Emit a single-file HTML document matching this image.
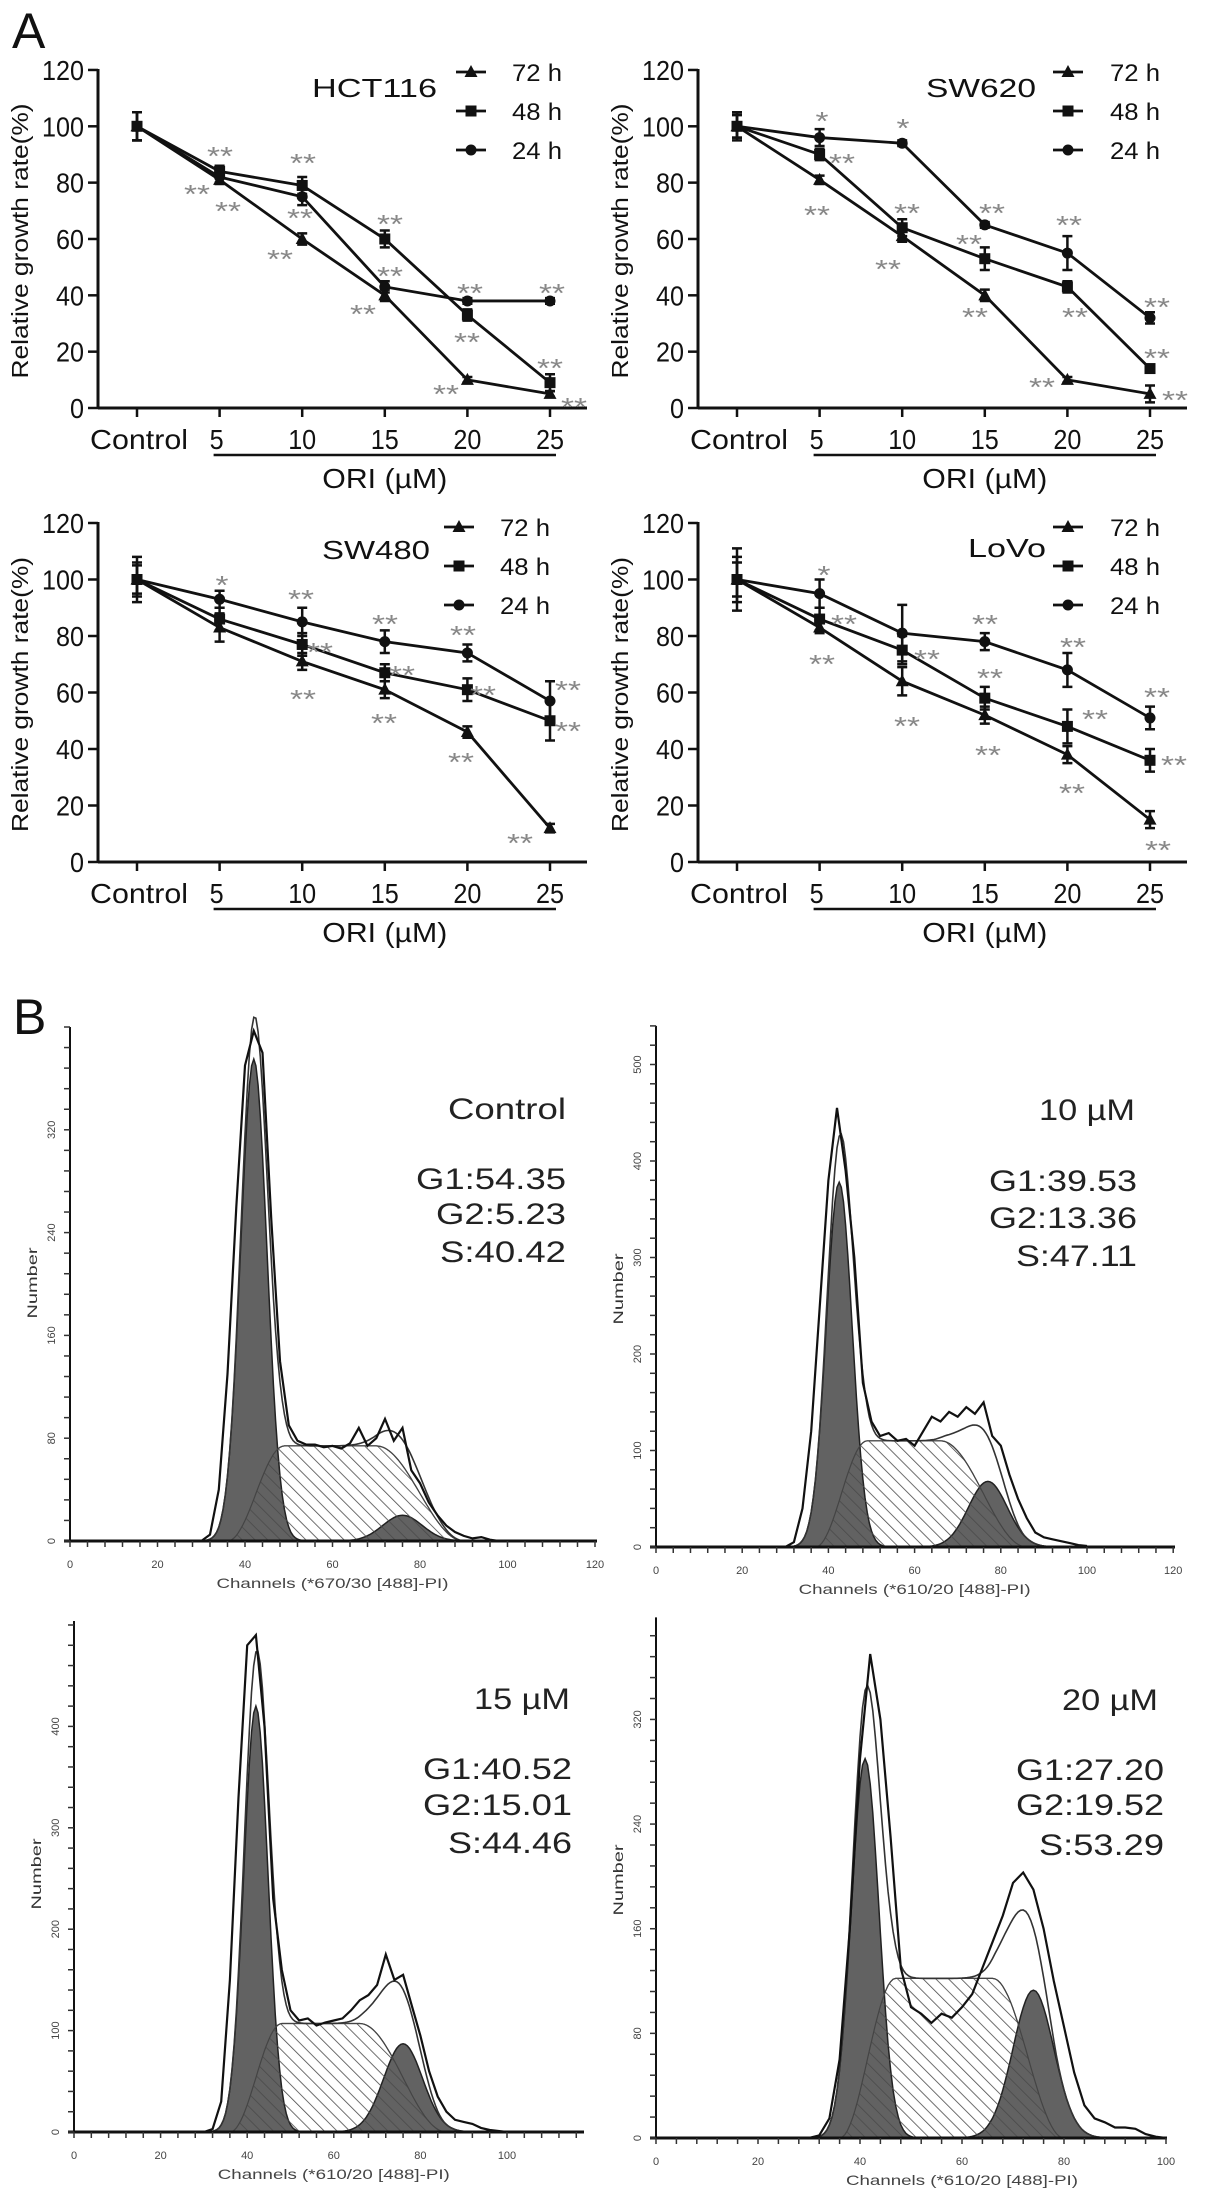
<!DOCTYPE html>
<html><head><meta charset="utf-8"><style>
html,body{margin:0;padding:0;background:#fff;}
svg{display:block;font-family:"Liberation Sans",Arial,sans-serif;}
</style></head><body>
<svg id="fig" width="1205" height="2200" viewBox="0 0 1205 2200" xmlns="http://www.w3.org/2000/svg">
<defs>
<pattern id="hatch" patternUnits="userSpaceOnUse" width="9" height="9" patternTransform="rotate(-45)">
<line x1="0" y1="0" x2="0" y2="9" stroke="#4a4a4a" stroke-width="1.6"/>
</pattern>
</defs>
<rect x="0" y="0" width="1205" height="2200" fill="#fff"/>
<text x="12" y="48" font-size="50" fill="#111">A</text>
<text x="13" y="1034" font-size="50" fill="#111">B</text>
</svg>
<script>
// ---------- Growth-rate chart data ----------
const growthDoses = ['Control','5','10','15','20','25'];
const seriesNames = ['72 h','48 h','24 h'];
const yTicks = [0,20,40,60,80,100,120];

const hct116_72h = [100,81,60,40,10,5];
const hct116_48h = [100,84,79,60,33,9];
const hct116_24h = [100,82,75,43,38,38];
const hct116_err72 = [5,1.5,2,2,1,1];
const hct116_err48 = [5,2,3,3,2,3];
const hct116_err24 = [5,2,3,2,1,1];

const sw620_72h = [100,81,61,40,10,5];
const sw620_48h = [100,90,64,53,43,14];
const sw620_24h = [100,96,94,65,55,32];
const sw620_err72 = [4,1.5,2,2,1,3];
const sw620_err48 = [4,2,3,4,2,1];
const sw620_err24 = [5,3,1,1,6,2];

const sw480_72h = [100,83,71,61,46,12];
const sw480_48h = [100,86,77,67,61,50];
const sw480_24h = [100,93,85,78,74,57];
const sw480_err72 = [5,5,3,3,2,1.5];
const sw480_err48 = [6,4,4,3,4,7];
const sw480_err24 = [8,3,5,4,3,7];

const lovo_72h = [100,83,64,52,38,15];
const lovo_48h = [100,86,75,58,48,36];
const lovo_24h = [100,95,81,78,68,51];
const lovo_err72 = [8,2,5,3,3,3];
const lovo_err48 = [6,4,5,4,6,4];
const lovo_err24 = [11,5,10,3,6,4];

// ---------- Flow cytometry data ----------
const flowChannels = [30,32,34,36,38,40,42,44,46,48,50,52,54,56,58,60,62,64,66,68,70,72,74,76,78,80,82,84,86,88,90,92,94,96,98,100];
const controlCounts = [0,5,40,130,260,370,397,380,250,140,90,78,75,75,73,74,72,76,88,74,80,95,78,88,55,45,30,20,12,7,4,2,3,1,0,0];
const dose10Counts = [0,5,40,120,250,380,455,390,300,170,130,115,118,110,112,105,120,135,130,140,135,145,138,150,115,105,75,50,30,15,10,8,6,4,2,1];
const dose15Counts = [0,3,30,150,330,480,490,400,230,160,120,110,112,105,108,110,112,120,130,135,145,175,150,155,125,95,60,35,20,12,10,8,4,2,1,0];
const dose20Counts = [0,2,15,60,160,290,370,320,230,130,100,95,88,95,92,100,110,130,150,170,195,203,190,160,120,85,50,25,15,12,8,8,7,3,1,0];
// components: G1 [mean,height,sigma]; S [start,plateauStart,plateauEnd,end,height]; G2 [mean,height,sigma]
const controlG1 = [42,375,3.0], controlS = [36,49,70,90,74], controlG2 = [76,20,4.5];
const dose10G1 = [42.5,378,3.0], dose10S = [37,49,66,86,110], dose10G2 = [77,68,4.5];
const dose15G1 = [42,420,2.8], dose15S = [36,48,66,86,107], dose15G2 = [76,87,4.5];
const dose20G1 = [41,290,2.7], dose20S = [36,47,66,80,122], dose20G2 = [74,113,4.0];
const controlStats = ['Control','G1:54.35','G2:5.23','S:40.42'];
const dose10Stats = ['10 µM','G1:39.53','G2:13.36','S:47.11'];
const dose15Stats = ['15 µM','G1:40.52','G2:15.01','S:44.46'];
const dose20Stats = ['20 µM','G1:27.20','G2:19.52','S:53.29'];

const NS = 'http://www.w3.org/2000/svg';
const svg = document.getElementById('fig');
function mk(tag, attrs, parent){
  const e = document.createElementNS(NS, tag);
  for (const k in attrs) e.setAttribute(k, attrs[k]);
  (parent || svg).appendChild(e);
  return e;
}
function txt(parent, x, y, s, size, anchor, len, fill, rot){
  const a = {x:x, y:y, 'font-size':size, 'text-anchor':anchor || 'start', fill: fill || '#111'};
  if (len) { a.textLength = len; a.lengthAdjust = 'spacingAndGlyphs'; }
  if (rot) a.transform = 'rotate(' + rot + ' ' + x + ' ' + y + ')';
  const t = mk('text', a, parent);
  t.textContent = s;
  return t;
}

function marker(g, kind, x, y){
  let m;
  if (kind === 0) m = mk('polygon', {points: (x)+','+(y-7)+' '+(x-6.5)+','+(y+5)+' '+(x+6.5)+','+(y+5), fill:'#111'}, g);
  else if (kind === 1) m = mk('rect', {x:x-5.5, y:y-5.5, width:11, height:11, fill:'#111'}, g);
  else m = mk('circle', {cx:x, cy:y, r:5.5, fill:'#111'}, g);
  return m;
}

function lineChart(cfg){
  const g = mk('g', {});
  
  
  const ax = cfg.ax, y0 = cfg.y0, ppu = cfg.ppu, x0 = cfg.x0, step = cfg.step;
  const X = i => x0 + i * step;
  const Y = v => y0 - v * ppu;
  const ya = mk('line', {x1:ax, y1:Y(120)-1, x2:ax, y2:y0, stroke:'#111', 'stroke-width':3}, g);
  
  
  const xa = mk('line', {x1:ax, y1:y0, x2:ax+489, y2:y0, stroke:'#111', 'stroke-width':3}, g);
  
  
  yTicks.forEach(v => {
    const tk = mk('line', {x1:ax-10, y1:Y(v), x2:ax, y2:Y(v), stroke:'#111', 'stroke-width':2.5}, g);
    
    
    const lb = txt(g, ax-14, Y(v)+10, String(v), 28, 'end', String(v).length*14);
    
    
  });
  growthDoses.forEach((d, i) => {
    const tk = mk('line', {x1:X(i), y1:y0, x2:X(i), y2:y0+9, stroke:'#111', 'stroke-width':2.5}, g);
    
    
    const lb = txt(g, i === 0 ? X(i)+2 : X(i)+ (i===1?-3:0), y0+41, d, 28, 'middle', i === 0 ? 98 : d.length*14);
    
    
  });
  const ul = mk('line', {x1:X(1)-6, y1:y0+47, x2:X(5)+6, y2:y0+47, stroke:'#111', 'stroke-width':2.5}, g);
  
  
  const xt = txt(g, (X(1)+X(5))/2, y0+80, 'ORI (µM)', 28, 'middle', 125);
  
  
  const yt = txt(g, ax-70, (Y(120)+y0)/2 + 2, 'Relative growth rate(%)', 23, 'middle', 275, '#111', -90);
  
  
  cfg.series.forEach((s, k) => {
    const sg = mk('g', {}, g);
    
    
    const pts = s.vals.map((v, i) => X(i) + ',' + Y(v)).join(' ');
    const pl = mk('polyline', {points: pts, fill:'none', stroke:'#111', 'stroke-width':2.8}, sg);
    
    
    s.vals.forEach((v, i) => {
      const e = s.err[i];
      const eb = mk('path', {d:'M'+X(i)+','+Y(v+e)+'V'+Y(v-e)+'M'+(X(i)-5)+','+Y(v+e)+'h10M'+(X(i)-5)+','+Y(v-e)+'h10', stroke:'#111', 'stroke-width':2.5, fill:'none'}, sg);
      
      
      const m = marker(sg, k, X(i), Y(v));
      
      
    });
  });
  const tt = txt(g, cfg.title[1], cfg.title[2], cfg.title[0], 26, 'start', cfg.title[3]);
  
  
  seriesNames.forEach((n, k) => {
    const ly = cfg.leg[1] + k * cfg.leg[3];
    const lg = mk('g', {}, g);
    
    
    mk('line', {x1:cfg.leg[0], y1:ly, x2:cfg.leg[0]+30, y2:ly, stroke:'#111', 'stroke-width':2.8}, lg);
    marker(lg, k, cfg.leg[0]+15, ly);
    txt(lg, cfg.leg[2], ly+9, n, 24, 'start', 50);
  });
  cfg.stars.forEach(s => {
    const st = txt(g, s[0], s[1]+13, s[2], 26, 'middle', s[2].length*13, '#888');
    
    
  });
}

lineChart({name:'hct116', ax:98, y0:408, ppu:2.817, x0:137, step:82.6,
  series:[{vals:hct116_72h, err:hct116_err72},{vals:hct116_48h, err:hct116_err48},{vals:hct116_24h, err:hct116_err24}],
  title:['HCT116',312,97,125], leg:[456,72,512,39],
  stars:[[220,152,'**'],[197,190,'**'],[228,207,'**'],[303,159,'**'],[300,214,'**'],[280,255,'**'],[390,220,'**'],[390,272,'**'],[363,310,'**'],[470,289,'**'],[467,338,'**'],[446,390,'**'],[552,289,'**'],[550,364,'**'],[574,403,'**']]});
lineChart({name:'sw620', ax:698, y0:408, ppu:2.817, x0:737, step:82.6,
  series:[{vals:sw620_72h, err:sw620_err72},{vals:sw620_48h, err:sw620_err48},{vals:sw620_24h, err:sw620_err24}],
  title:['SW620',926,97,110], leg:[1053,72,1110,39],
  stars:[[822,117,'*'],[842,159,'**'],[817,211,'**'],[903,124,'*'],[907,209,'**'],[888,265,'**'],[992,209,'**'],[969,240,'**'],[975,313,'**'],[1069,221,'**'],[1075,313,'**'],[1042,383,'**'],[1157,303,'**'],[1157,354,'**'],[1175,396,'**']]});
lineChart({name:'sw480', ax:98, y0:862, ppu:2.825, x0:137, step:82.6,
  series:[{vals:sw480_72h, err:sw480_err72},{vals:sw480_48h, err:sw480_err48},{vals:sw480_24h, err:sw480_err24}],
  title:['SW480',322,559,108], leg:[444,527,500,39],
  stars:[[222,581,'*'],[301,595,'**'],[320,648,'**'],[303,695,'**'],[385,620,'**'],[402,671,'**'],[384,719,'**'],[463,631,'**'],[483,691,'**'],[461,758,'**'],[568,686,'**'],[568,727,'**'],[520,839,'**']]});
lineChart({name:'lovo', ax:698, y0:862, ppu:2.825, x0:737, step:82.6,
  series:[{vals:lovo_72h, err:lovo_err72},{vals:lovo_48h, err:lovo_err48},{vals:lovo_24h, err:lovo_err24}],
  title:['LoVo',968,557,78], leg:[1053,527,1110,39],
  stars:[[824,571,'*'],[844,620,'**'],[822,660,'**'],[927,655,'**'],[907,722,'**'],[985,620,'**'],[990,674,'**'],[988,751,'**'],[1073,643,'**'],[1095,715,'**'],[1072,789,'**'],[1157,693,'**'],[1174,761,'**'],[1158,846,'**']]});

// ---------- Flow histograms ----------
function gauss(c, p){ return p[1] * Math.exp(-0.5 * Math.pow((c - p[0]) / p[2], 2)); }
function sShape(c, p){
  if (c <= p[0] || c >= p[3]) return 0;
  if (c < p[1]) return p[4] * 0.5 * (1 - Math.cos(Math.PI * (c - p[0]) / (p[1] - p[0])));
  if (c <= p[2]) return p[4];
  return p[4] * 0.5 * (1 + Math.cos(Math.PI * (c - p[2]) / (p[3] - p[2])));
}

function flowPanel(cfg){
  const g = mk('g', {});
  
  
  const X = c => cfg.ox + c * cfg.pxc;
  const Y = v => cfg.by - v * cfg.pxu;
  const area = fn => {
    let d = 'M' + X(28) + ',' + cfg.by;
    for (let c = 28; c <= 100; c += 0.5) d += 'L' + X(c).toFixed(1) + ',' + Y(fn(c)).toFixed(1);
    return d + 'L' + X(100) + ',' + cfg.by + 'Z';
  };
  const sFn = c => sShape(c, cfg.S);
  const sw = mk('path', {d: area(sFn), fill:'#fff', stroke:'#555', 'stroke-width':1.2}, g);
  
  
  const g1 = mk('path', {d: area(c => gauss(c, cfg.G1)), fill:'#626262', stroke:'#222', 'stroke-width':1.5}, g);
  
  
  const g2 = mk('path', {d: area(c => gauss(c, cfg.G2)), fill:'#626262', stroke:'#222', 'stroke-width':1.5}, g);
  
  
  const sh = mk('path', {d: area(sFn), fill:'url(#hatch)', stroke:'#444', 'stroke-width':1.2}, g);
  
  
  let fd = '';
  for (let c = 28; c <= 100; c += 0.5) {
    const v = gauss(c, cfg.G1) + gauss(c, cfg.G2) + sShape(c, cfg.S);
    fd += (fd ? 'L' : 'M') + X(c).toFixed(1) + ',' + Y(v).toFixed(1);
  }
  const fit = mk('path', {d: fd, fill:'none', stroke:'#333', 'stroke-width':1.6}, g);
  
  
  const od = flowChannels.map((c, i) => (i ? 'L' : 'M') + X(c).toFixed(1) + ',' + Y(cfg.counts[i]).toFixed(1)).join('');
  const obs = mk('path', {d: od, fill:'none', stroke:'#111', 'stroke-width':2.2}, g);
  
  
  const ya = mk('line', {x1:cfg.ox, y1:Y(cfg.ymax), x2:cfg.ox, y2:cfg.by, stroke:'#111', 'stroke-width':2}, g);
  
  
  const xa = mk('line', {x1:cfg.ox-6, y1:cfg.by, x2:cfg.xend, y2:cfg.by, stroke:'#111', 'stroke-width':3}, g);
  
  
  for (let v = 0; v <= cfg.ymax; v += cfg.yminor) {
    mk('line', {x1:cfg.ox-6, y1:Y(v), x2:cfg.ox, y2:Y(v), stroke:'#333', 'stroke-width':1.5}, g);
  }
  cfg.ylabs.forEach(v => {
    const l = txt(g, cfg.ox-15, Y(v), String(v), 11, 'middle', 0, '#444', -90);
    
    
  });
  for (let c = 0; c * cfg.pxc + cfg.ox <= cfg.xend + 1; c += 4) {
    mk('line', {x1:X(c), y1:cfg.by, x2:X(c), y2:cfg.by+6, stroke:'#333', 'stroke-width':1.5}, g);
  }
  cfg.xlabs.forEach(c => {
    const l = txt(g, X(c), cfg.by+27, String(c), 11, 'middle', 0, '#444');
    
    
  });
  const xt = txt(g, X(60), cfg.by+47, cfg.xtitle, 14, 'middle', 232, '#444');
  
  
  const yt = txt(g, cfg.ox-33, cfg.by-258, 'Number', 14, 'middle', 71, '#333', -90);
  
  
  cfg.stats.forEach((s, i) => {
    const t = txt(g, i === 0 ? cfg.rx0 : cfg.rx, cfg.sy[i], s, 30, 'end', cfg.slen[i], '#222');
    
    
  });
}

flowPanel({name:'control', ox:70, by:1541, pxc:4.375, pxu:1.285, ymax:400, yminor:16, ylabs:[0,80,160,240,320], xlabs:[0,20,40,60,80,100,120], xend:597,
  counts:controlCounts, G1:controlG1, S:controlS, G2:controlG2, xtitle:'Channels (*670/30 [488]-PI)',
  stats:controlStats, rx0:566, rx:566, sy:[1119,1189,1224,1262], slen:[118,150,130,126]});
flowPanel({name:'dose-10um', ox:656, by:1547, pxc:4.31, pxu:0.965, ymax:540, yminor:20, ylabs:[0,100,200,300,400,500], xlabs:[0,20,40,60,80,100,120], xend:1175,
  counts:dose10Counts, G1:dose10G1, S:dose10S, G2:dose10G2, xtitle:'Channels (*610/20 [488]-PI)',
  stats:dose10Stats, rx0:1135, rx:1137, sy:[1120,1191,1228,1266], slen:[96,148,148,121]});
flowPanel({name:'dose-15um', ox:74, by:2132, pxc:4.33, pxu:1.014, ymax:504, yminor:20, ylabs:[0,100,200,300,400], xlabs:[0,20,40,60,80,100], xend:584,
  counts:dose15Counts, G1:dose15G1, S:dose15S, G2:dose15G2, xtitle:'Channels (*610/20 [488]-PI)',
  stats:dose15Stats, rx0:570, rx:572, sy:[1709,1779,1815,1853], slen:[96,149,149,124]});
flowPanel({name:'dose-20um', ox:656, by:2138, pxc:5.1, pxu:1.308, ymax:398, yminor:16, ylabs:[0,80,160,240,320], xlabs:[0,20,40,60,80,100], xend:1167,
  counts:dose20Counts, G1:dose20G1, S:dose20S, G2:dose20G2, xtitle:'Channels (*610/20 [488]-PI)',
  stats:dose20Stats, rx0:1158, rx:1164, sy:[1710,1780,1815,1855], slen:[96,148,148,125]});
</script>
</body></html>
